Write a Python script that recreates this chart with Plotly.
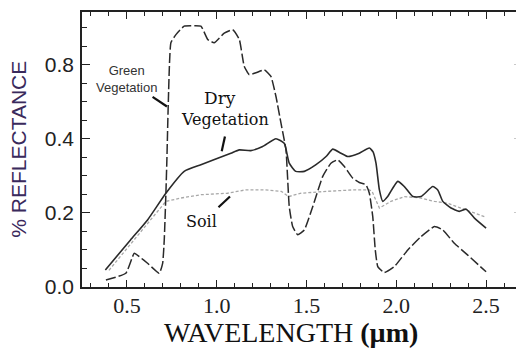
import plotly.graph_objects as go

# ---- data (wavelength in micrometres, reflectance as fraction) ----
dry_wl = [0.38, 0.52, 0.615, 0.717, 0.819, 0.912, 1.079, 1.126, 1.19, 1.256, 1.33, 1.376,
          1.404, 1.44, 1.488, 1.553, 1.609, 1.646, 1.692, 1.73, 1.794, 1.85, 1.87, 1.887,
          1.906, 1.925, 1.952, 2.008, 2.045, 2.092, 2.138, 2.203, 2.231, 2.259, 2.305,
          2.351, 2.389, 2.435, 2.5]
dry_r = [0.046, 0.127, 0.181, 0.253, 0.312, 0.33, 0.361, 0.37, 0.368, 0.379, 0.400, 0.388,
         0.334, 0.312, 0.312, 0.33, 0.352, 0.372, 0.361, 0.352, 0.361, 0.375, 0.365, 0.334,
         0.262, 0.231, 0.244, 0.285, 0.271, 0.244, 0.244, 0.271, 0.262, 0.231, 0.213,
         0.204, 0.21, 0.186, 0.159]

green_wl = [0.383, 0.494, 0.541, 0.569, 0.615, 0.68, 0.699, 0.708, 0.717, 0.723, 0.73,
            0.745, 0.773, 0.819, 0.857, 0.912, 0.95, 0.986, 1.042, 1.089, 1.126, 1.153,
            1.181, 1.219, 1.265, 1.302, 1.33, 1.358, 1.376, 1.386, 1.404, 1.423, 1.451,
            1.488, 1.535, 1.59, 1.636, 1.674, 1.711, 1.757, 1.794, 1.831, 1.85, 1.869,
            1.883, 1.897, 1.933, 1.989, 2.064, 2.138, 2.212, 2.259, 2.323, 2.398, 2.5]
green_r = [0.019, 0.037, 0.091, 0.082, 0.064, 0.037, 0.064, 0.127, 0.25, 0.35, 0.574,
           0.918, 0.962, 1.008, 1.01, 1.008, 0.936, 0.918, 0.97, 0.988, 0.936, 0.792,
           0.746, 0.756, 0.772, 0.736, 0.628, 0.484, 0.397, 0.37, 0.217, 0.163, 0.141,
           0.154, 0.217, 0.298, 0.334, 0.343, 0.325, 0.294, 0.282, 0.276, 0.253, 0.19,
           0.1, 0.055, 0.039, 0.055, 0.1, 0.136, 0.163, 0.154, 0.118, 0.086, 0.041]

soil_wl = [0.4, 0.52, 0.615, 0.717, 0.8, 0.912, 1.06, 1.16, 1.27, 1.36, 1.40, 1.47, 1.61,
           1.76, 1.85, 1.865, 1.906, 1.97, 2.045, 2.138, 2.212, 2.286, 2.36, 2.435, 2.5]
soil_r = [0.045, 0.115, 0.172, 0.231, 0.24, 0.249, 0.253, 0.262, 0.262, 0.258, 0.244,
          0.253, 0.258, 0.262, 0.262, 0.258, 0.213, 0.231, 0.244, 0.24, 0.231, 0.226,
          0.213, 0.199, 0.188]

y_tick_values = [0.0, 0.2, 0.4, 0.8]
y_tick_labels = ["0.0", "0.2", "0.4", "0.8"]
x_tick_values = [0.5, 1.0, 1.5, 2.0, 2.5]
x_tick_labels = ["0.5", "1.0", "1.5", "2.0", "2.5"]


# The original chart uses a broken vertical scale: above 0.4 each unit
# takes half the height it takes below 0.4.
def to_axis(v):
    return v if v <= 0.4 else 0.4 + (v - 0.4) / 2.0


def scale(vals):
    return [to_axis(v) for v in vals]


fig = go.Figure()
fig.add_trace(go.Scatter(x=soil_wl, y=scale(soil_r), mode="lines",
                         line=dict(color="#a8a8a8", width=1.3, dash="3px,2px"),
                         showlegend=False))
fig.add_trace(go.Scatter(x=dry_wl, y=scale(dry_r), mode="lines",
                         line=dict(color="#2a2a2a", width=1.6, shape="spline", smoothing=0.5),
                         showlegend=False))
fig.add_trace(go.Scatter(x=green_wl, y=scale(green_r), mode="lines",
                         line=dict(color="#2a2a2a", width=1.5, dash="10px,3px",
                                   shape="spline", smoothing=0.4),
                         showlegend=False))
# invisible trace to drive the faint right-hand axis
fig.add_trace(go.Scatter(x=[None], y=[None], yaxis="y2", showlegend=False))

yr = [0, 0.742]
# the page body adds an 8px margin, so the figure is 8px smaller on each axis
fig.update_layout(
    width=516, height=343,
    margin=dict(l=74, r=2, t=4, b=64),
    paper_bgcolor="white", plot_bgcolor="white",
    xaxis=dict(range=[0.25, 2.70], tickvals=x_tick_values, ticktext=x_tick_labels,
               ticks="inside", ticklen=7, tickwidth=1.2, tickcolor="#222",
               showline=True, linecolor="#222", linewidth=1.5, mirror="ticks",
               showgrid=False, zeroline=False,
               minor=dict(dtick=0.1, tick0=0.0, ticks="inside", ticklen=4,
                          tickcolor="#222", tickwidth=1.1),
               tickfont=dict(family="Liberation Serif, Times New Roman, serif",
                             size=22, color="#222"),
               ticklabelstandoff=-2),
    yaxis=dict(range=yr, tickvals=scale(y_tick_values), ticktext=y_tick_labels,
               ticks="inside", ticklen=8, tickwidth=1.2, tickcolor="#222",
               showline=True, linecolor="#222", linewidth=1.5,
               showgrid=False, zeroline=False,
               minor=dict(dtick=0.05, tick0=0.0, ticks="inside", ticklen=5,
                          tickcolor="#222", tickwidth=1.1),
               tickfont=dict(family="Liberation Sans, Arial, sans-serif",
                             size=21, color="#222"),
               ticklabelstandoff=2),
    yaxis2=dict(range=yr, overlaying="y", side="right", showticklabels=False,
                tickvals=scale(y_tick_values), ticks="inside", ticklen=8,
                tickcolor="#c8c8c8", showline=True, linecolor="#e8e8e8",
                showgrid=False, zeroline=False,
                minor=dict(dtick=0.05, tick0=0.0, ticks="inside", ticklen=4,
                           tickcolor="#d0d0d0")),
)

# pointer lines for the labels
pointers = [((0.643, 0.513), (0.723, 0.487)),
            ((1.046, 0.406), (1.028, 0.366)),
            ((1.01, 0.215), (1.074, 0.244))]
for (x0, y0), (x1, y1) in pointers:
    fig.add_shape(type="line", xref="x", yref="y", x0=x0, y0=y0, x1=x1, y1=y1,
                  line=dict(color="#111", width=2.2))

fig.add_annotation(x=0.5, y=0.56, xref="x", yref="y", showarrow=False,
                   text="Green<br>Vegetation",
                   font=dict(family="Liberation Sans, Arial, sans-serif", size=13, color="#333"))
fig.add_annotation(x=1.018, y=0.511, xref="x", yref="y", showarrow=False, text="Dry",
                   font=dict(family="DejaVu Serif, serif", size=17, color="#111"))
fig.add_annotation(x=1.046, y=0.451, xref="x", yref="y", showarrow=False, text="Vegetation",
                   font=dict(family="DejaVu Serif, serif", size=16, color="#111"))
fig.add_annotation(x=0.918, y=0.176, xref="x", yref="y", showarrow=False, text="Soil",
                   font=dict(family="DejaVu Serif, serif", size=16, color="#111"))

# axis titles
fig.add_annotation(x=-0.145, y=0.5, xref="paper", yref="paper", showarrow=False,
                   xanchor="center", yanchor="middle",
                   text="% REFLECTANCE", textangle=-90,
                   font=dict(family="Liberation Sans, Arial, sans-serif", size=21,
                             color="#3a2a5c"))
fig.add_annotation(x=0.475, y=-0.167, xref="paper", yref="paper", showarrow=False,
                   xanchor="center", yanchor="middle",
                   text="WAVELENGTH <b>(µm)</b>",
                   font=dict(family="Liberation Serif, Times New Roman, serif", size=28,
                             color="#111"))

fig.write_html("out.html")
